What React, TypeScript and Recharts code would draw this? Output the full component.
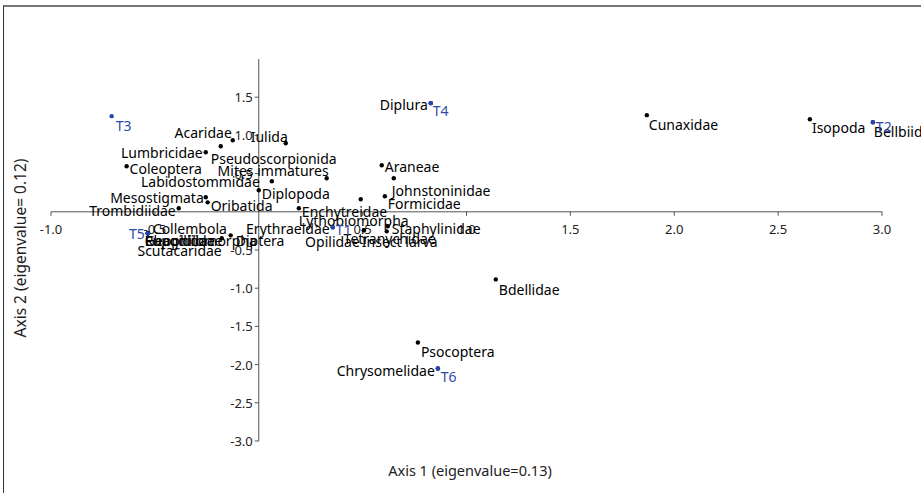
import { ScatterChart, Scatter, XAxis, YAxis, ReferenceLine } from 'recharts';

// species scores (axis 1, axis 2)
const speciesNames = [
  'Acaridae', 'Iulida', 'Pseudoscorpionida', 'Lumbricidae', 'Coleoptera', 'Mites immatures',
  'Labidostommidae', 'Diplopoda', 'Mesostigmata', 'Oribatida', 'Trombidiidae', 'Enchytreidae',
  'Araneae', 'Johnstoninidae', 'Formicidae', 'Lythobiomorpha', 'Erythraeidae', 'Opilidae',
  'Insect larva', 'Staphylinidae', 'Tetranychidae', 'Collembola', 'Rhagidiidae', 'Eupodidae',
  'Geophilomorpha', 'Scutacaridae', 'Diptera', 'Diplura', 'Cunaxidae', 'Isopoda', 'Bellbiidae',
  'Bdellidae', 'Psocoptera', 'Chrysomelidae',
];
const speciesX = [
  -0.125, 0.13, -0.183, -0.255, -0.636, 0.327,
  0.063, 0.0, -0.255, -0.246, -0.385, 0.193,
  0.592, 0.65, 0.607, 0.491, 0.356, 0.506,
  0.506, 0.621, 0.616, -0.534, -0.534, -0.534,
  -0.534, -0.178, -0.135, 0.828, 1.868, 2.653, 2.956,
  1.141, 0.766, 0.862,
];
const speciesY = [
  0.937, 0.898, 0.858, 0.78, 0.596, 0.439,
  0.4, 0.282, 0.19, 0.124, 0.046, 0.046,
  0.609, 0.439, 0.203, 0.164, -0.203, -0.242,
  -0.242, -0.19, -0.256, -0.282, -0.282, -0.282,
  -0.282, -0.347, -0.308, 1.422, 1.265, 1.212, 1.173,
  -0.885, -1.71, -2.051,
];

// site scores
const siteNames = ['T1', 'T2', 'T3', 'T4', 'T5', 'T6'];
const siteX = [0.356, 2.956, -0.708, 0.828, -0.534, 0.862];
const siteY = [-0.203, 1.173, 1.252, 1.422, -0.282, -2.051];

const xTicks = [-1, -0.5, 0.5, 1, 1.5, 2, 2.5, 3];
const yTicks = [1.5, 1, 0.5, -0.5, -1, -1.5, -2, -2.5, -3];

// label placement relative to the dot: [dx, dy, anchor]
const labelPos: Record<string, [number, number, string]> = {
  Acaridae: [-1, -8, 'end'],
  Iulida: [2, -7, 'end'],
  Pseudoscorpionida: [-10, 12, 'start'],
  Lumbricidae: [-3, 0, 'end'],
  Coleoptera: [3, 2, 'start'],
  'Mites immatures': [2, -8, 'end'],
  Labidostommidae: [-12, 0, 'end'],
  Diplopoda: [3, 3, 'start'],
  Mesostigmata: [-2, 0, 'end'],
  Oribatida: [3, 3, 'start'],
  Trombidiidae: [-3, 2, 'end'],
  Enchytreidae: [3, 3, 'start'],
  Araneae: [3, 1, 'start'],
  Johnstoninidae: [-2, 12, 'start'],
  Formicidae: [3, 7, 'start'],
  Lythobiomorpha: [-7, 21, 'middle'],
  Erythraeidae: [-3, 1, 'end'],
  Opilidae: [-4, 11, 'end'],
  'Insect larva': [-2, 11, 'start'],
  Staphylinidae: [4, 2, 'start'],
  Tetranychidae: [3, 7, 'middle'],
  Collembola: [5, -5, 'start'],
  Rhagidiidae: [-3, 7, 'start'],
  Eupodidae: [-3, 7, 'start'],
  Geophilomorpha: [-3, 7, 'start'],
  Scutacaridae: [0, 12, 'end'],
  Diptera: [5, 5, 'start'],
  Diplura: [-3, 1, 'end'],
  Cunaxidae: [2, 9, 'start'],
  Isopoda: [2, 8, 'start'],
  Bellbiidae: [1, 9, 'start'],
  Bdellidae: [3, 10, 'start'],
  Psocoptera: [3, 9, 'start'],
  Chrysomelidae: [-3, 2, 'end'],
  T1: [3, 2, 'start'],
  T2: [3, 4, 'start'],
  T3: [4, 9, 'start'],
  T4: [2, 7, 'start'],
  T5: [-3, 0, 'end'],
  T6: [3, 8, 'start'],
};

const species = speciesNames.map((name, i) => ({ name, x: speciesX[i], y: speciesY[i] }));
const sites = siteNames.map((name, i) => ({ name, x: siteX[i], y: siteY[i] }));
const xTickData = xTicks.map((v) => ({ x: v, y: 0 }));
const yTickData = yTicks.map((v) => ({ x: 0, y: v }));

const FONT = '"Noto Sans", "Open Sans", sans-serif';

function makePoint(dotColor: string, textColor: string) {
  return (props: any) => {
    const { cx, cy, payload } = props;
    const [dx, dy, anchor] = labelPos[payload.name] || [3, 3, 'start'];
    return (
      <g>
        <circle cx={cx} cy={cy} r={2.2} fill={dotColor} />
        <text
          x={cx + dx}
          y={cy + dy}
          textAnchor={anchor as any}
          dominantBaseline="central"
          fontSize={14}
          fontFamily={FONT}
          fill={textColor}
        >
          {payload.name}
        </text>
      </g>
    );
  };
}

const XTick = (props: any) => {
  const { cx, cy, payload } = props;
  return (
    <g>
      <line x1={cx} y1={cy} x2={cx} y2={cy + 4} stroke="#555" />
      <text x={cx} y={cy + 17} textAnchor="middle" dominantBaseline="central" fontSize={13} fontFamily={FONT} fill="#222">
        {payload.x.toFixed(1)}
      </text>
    </g>
  );
};

const YTick = (props: any) => {
  const { cx, cy, payload } = props;
  return (
    <g>
      <line x1={cx - 4} y1={cy} x2={cx} y2={cy} stroke="#555" />
      <text x={cx - 6} y={cy} textAnchor="end" dominantBaseline="central" fontSize={13} fontFamily={FONT} fill="#222">
        {payload.y.toFixed(1)}
      </text>
    </g>
  );
};

export default function App() {
  return (
    <div style={{ position: 'absolute', left: 0, top: 0, width: 921, height: 493, background: '#fff', overflow: 'hidden' }}>
      <div
        style={{
          position: 'absolute',
          left: 3,
          top: 5,
          width: 960,
          height: 520,
          borderLeft: '1px solid #333',
          borderTop: '2px solid #777',
        }}
      />
      <div style={{ position: 'absolute', left: 0, top: 0 }}>
        <ScatterChart width={921} height={493} margin={{ top: 59, right: 39, bottom: 52, left: 51 }}>
          <XAxis type="number" dataKey="x" domain={[-1, 3]} hide />
          <YAxis type="number" dataKey="y" domain={[-3, 2]} hide />
          <ReferenceLine y={0} stroke="#555" />
          <ReferenceLine x={0} stroke="#555" />
          <Scatter data={xTickData} shape={XTick} isAnimationActive={false} />
          <Scatter data={yTickData} shape={YTick} isAnimationActive={false} />
          <Scatter data={species} shape={makePoint('#000', '#000')} isAnimationActive={false} />
          <Scatter data={sites} shape={makePoint('#2347b0', '#2f4aa6')} isAnimationActive={false} />
        </ScatterChart>
      </div>
      <div
        style={{
          position: 'absolute',
          left: 320,
          width: 300,
          top: 460,
          textAlign: 'center',
          fontFamily: FONT,
          fontSize: 14.5,
          color: '#222',
        }}
      >
        Axis 1 (eigenvalue=0.13)
      </div>
      <div
        style={{
          position: 'absolute',
          left: 20,
          top: 248,
          width: 260,
          marginLeft: -130,
          marginTop: -11,
          textAlign: 'center',
          transform: 'rotate(-90deg)',
          fontFamily: FONT,
          fontSize: 15.5,
          color: '#222',
        }}
      >
        Axis 2 (eigenvalue= 0.12)
      </div>
    </div>
  );
}
